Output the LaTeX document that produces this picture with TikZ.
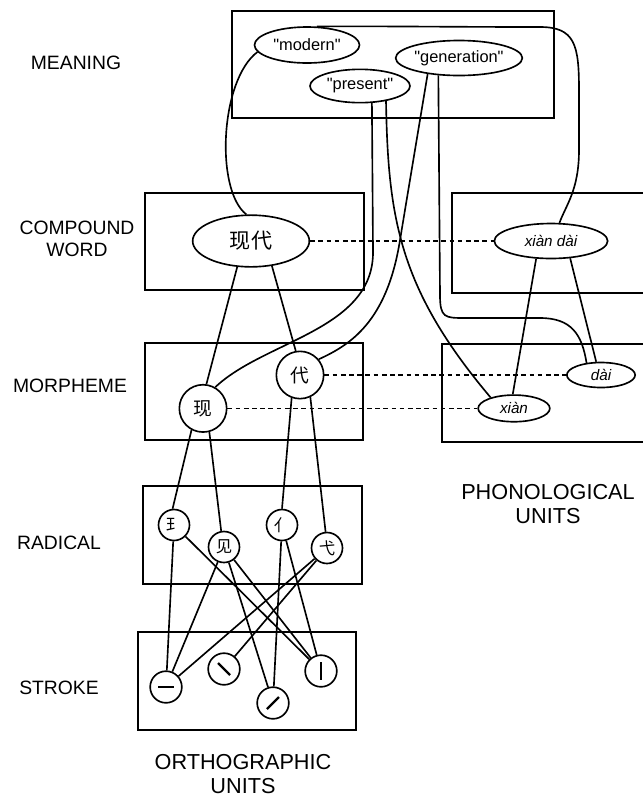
\documentclass[tikz,border=0pt]{standalone}
\usepackage{fontspec}
\setmainfont{Liberation Sans}
\newfontfamily\cjk{Noto Sans CJK SC}
\usepackage{tikz}
\usetikzlibrary{shapes.geometric}

\begin{document}
\begin{tikzpicture}[x=0.03cm, y=-0.03cm, line width=1.4pt,
    lvl/.style={font=\fontsize{16.5}{19}\selectfont, align=center},
    unitlabel/.style={font=\fontsize{18.5}{20.5}\selectfont, align=center},
    sense/.style={draw, ellipse, inner sep=0pt, font=\fontsize{14}{16}\selectfont},
    sound/.style={draw, ellipse, inner sep=0pt, font=\fontsize{13}{15}\selectfont\itshape},
    morph/.style={draw, circle, inner sep=0pt, minimum size=1.42cm, font=\cjk\fontsize{16}{18}\selectfont},
    rad/.style={draw, circle, inner sep=0pt, minimum size=0.93cm, font=\cjk\fontsize{14}{16}\selectfont},
    strk/.style={draw, circle, inner sep=0pt, minimum size=0.95cm},
    strokemark/.style={line width=2pt},
    link/.style={dash pattern=on 4pt off 3pt}]
    \useasboundingbox (0,0) rectangle (643,799);
    % level names
    \node[lvl] (lmeaning) at (76,63) {MEANING};
    \node[lvl] (lword) at (77,239) {COMPOUND\\WORD};
    \node[lvl] (lmorph) at (70,386) {MORPHEME};
    \node[lvl] (lradical) at (59,543) {RADICAL};
    \node[lvl] (lstroke) at (59,688) {STROKE};
    \node[unitlabel] (lphon) at (548,504) {PHONOLOGICAL\\UNITS};
    \node[unitlabel] (lorth) at (243,774) {ORTHOGRAPHIC\\UNITS};
    % boxes
    \draw (232,11) rectangle (554,118);
    \draw (145,193) rectangle (364,290);
    \draw (643,193) -| (452,293) -- (643,293);
    \draw (145,343) rectangle (363,440);
    \draw (643,344) -| (442,442) -- (643,442);
    \draw (143,486) rectangle (362,584);
    \draw (138,632) rectangle (356,730);
    % meaning
    \node[sense, minimum width=3.15cm, minimum height=1.08cm] (modern) at (307,45) {\textquotedbl modern\textquotedbl};
    \node[sense, minimum width=3.8cm, minimum height=1.05cm] (gen) at (459,58) {\textquotedbl generation\textquotedbl};
    \node[sense, minimum width=3.0cm, minimum height=1.0cm] (present) at (360,86) {\textquotedbl present\textquotedbl};
    % words
    \node[draw, ellipse, inner sep=0pt, minimum width=3.5cm, minimum height=1.55cm, font=\cjk\fontsize{18}{20}\selectfont] (cword) at (251,241) {现代};
    \node[sound, minimum width=3.4cm, minimum height=1.05cm] (pword) at (551,241) {xiàn dài};
    % morphemes
    \node[morph] (mdai) at (300,375) {代};
    \node[morph] (mxian) at (203,408.4) {现};
    \node[sound, minimum width=2.05cm, minimum height=0.75cm] (pdai) at (601,375) {dài};
    \node[sound, minimum width=2.15cm, minimum height=0.8cm] (pxian) at (514,408.4) {xiàn};
    % radicals
    \node[rad] (rwang) at (174,525) {⺩};
    \node[rad] (rjian) at (224,547) {见};
    \node[rad] (rren) at (282,525) {亻};
    \node[rad] (ryi) at (327,548) {弋};
    % strokes
    \node[strk] (sheng) at (166,687) {};
    \node[strk] (sdian) at (224,669) {};
    \node[strk] (spie) at (273,703) {};
    \node[strk] (sshu) at (321,671) {};
    \draw[strokemark] ([shift={(-8,0)}]sheng.center) -- ([shift={(8,0)}]sheng.center);
    \draw[strokemark] ([shift={(-6,-6)}]sdian.center) -- ([shift={(6,6)}]sdian.center);
    \draw[strokemark] ([shift={(-6,6)}]spie.center) -- ([shift={(6,-6)}]spie.center);
    \draw[strokemark] ([shift={(0,-9)}]sshu.center) -- ([shift={(0,9)}]sshu.center);
    % meaning links
    \draw (modern.188) .. controls (220,80) and (215,190) .. (cword.100);
    \draw (modern.62) .. controls (380,26) and (450,27) .. (540,27) .. controls (575,27) and (579,45) .. (579,90) -- (579,150) .. controls (579,190) and (566,205) .. (pword.65);
    \draw (present.-55) -- (373,250) .. controls (375,330) and (265,340) .. (mxian.60);
    \draw (present.-30) .. controls (388,220) and (400,290) .. (pxian.155);
    \draw (gen.-153) -- (400,240) .. controls (387,322) and (350,345) .. (mdai.40);
    \draw (gen.-140) -- (440,295) .. controls (440,318) and (445,318) .. (465,318) -- (540,318) .. controls (572,318) and (582,335) .. (pdai.140);
    % same unit, two codes
    \draw[link] (cword.east) -- (pword.west);
    \draw[link] (mdai.east) -- (pdai.west);
    \draw[link] (mxian.east) -- (pxian.west);
    % word to morpheme
    \draw (cword.-118) -- (mxian.82);
    \draw (cword.-50) -- (mdai.100);
    \draw (pword.-130) -- (pxian.95);
    \draw (pword.-42) -- (pdai.110);
    % morpheme to radical
    \draw (mxian.-118) -- (rwang.95);
    \draw (mxian.-75) -- (rjian.100);
    \draw (mdai.-110) -- (rren.90);
    \draw (mdai.-65) -- (ryi.95);
    % radical to stroke
    \draw (rwang) -- (sheng);
    \draw (rwang) -- (sshu);
    \draw (rjian) -- (sheng);
    \draw (rjian) -- (spie);
    \draw (rjian) -- (sshu);
    \draw (rren) -- (spie);
    \draw (rren) -- (sshu);
    \draw (ryi) -- (sheng);
    \draw (ryi) -- (sdian);
\end{tikzpicture}
\end{document}
